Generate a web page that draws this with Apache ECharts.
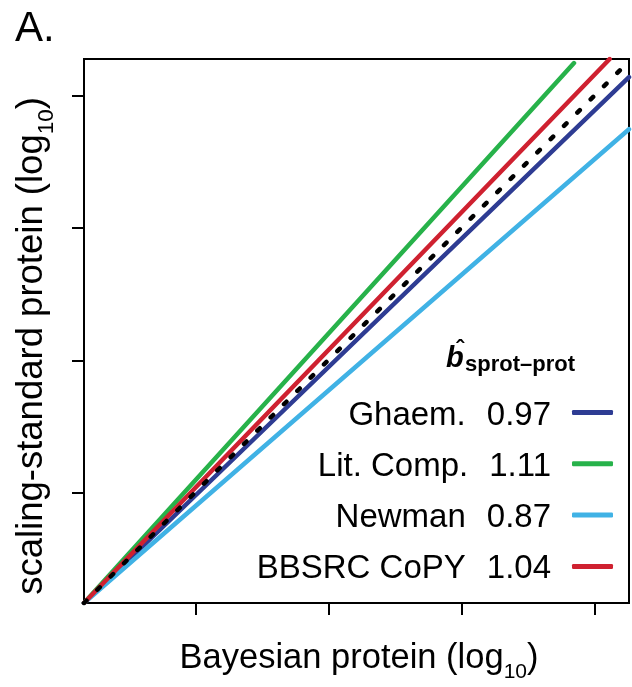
<!DOCTYPE html>
<html>
<head>
<meta charset="utf-8">
<script src="https://cdn.jsdelivr.net/npm/echarts@6/dist/echarts.min.js"></script>
<style>
  html, body { margin: 0; padding: 0; background: #fff; }
  #main { width: 632px; height: 687px; }
</style>
</head>
<body>
<div id="main"></div>
<script>
// data (log10 units, tick labels not shown)
const groups = ["Ghaem.", "Lit. Comp.", "Newman", "BBSRC CoPY"];
const slopeLabels = ["0.97", "1.11", "0.87", "1.04"];
const startPoint = [0.163, 0.17];
const endX = [4.255, 3.842, 4.255, 4.11];
const endY = [4.138, 4.244, 3.745, 4.275];
const identityEnd = [4.233, 4.236];
const xTicks = [1, 2, 3, 4];
const yTicks = [1, 2, 3, 4];

const colors = ["#2e3c93", "#27b24a", "#40b2e5", "#cf2130"];
const font = "Liberation Sans, Arial, Helvetica, sans-serif";

const myChart = echarts.init(document.getElementById("main"));

const series = groups.map((name, i) => ({
  name: name,
  type: "line",
  data: [startPoint, [endX[i], endY[i]]],
  symbol: "none",
  color: colors[i],
  lineStyle: { color: colors[i], width: 4.5, cap: "round" },
  z: 2 + i,
}));
series.push({
  name: "identity",
  type: "line",
  data: [startPoint, identityEnd],
  symbol: "none",
  color: "#000",
  lineStyle: { color: "#000", width: 4.5, type: [3.5, 15.3], cap: "round" },
  z: 10,
});

const legendText = {};
groups.forEach((g, i) => { legendText[g] = slopeLabels[i]; });

const option = {
  animation: false,
  backgroundColor: "#fff",
  grid: {
    left: 84, top: 59, width: 545, height: 544,
    show: true, borderColor: "#000", borderWidth: 2,
  },
  xAxis: {
    type: "value",
    min: startPoint[0], max: 4.255,
    axisLine: { show: false },
    axisTick: { show: true, customValues: xTicks, length: 12, lineStyle: { color: "#000", width: 2 } },
    axisLabel: { show: false },
    splitLine: { show: false },
  },
  yAxis: {
    type: "value",
    min: startPoint[1], max: 4.275,
    axisLine: { show: false },
    axisTick: { show: true, customValues: yTicks, length: 12, lineStyle: { color: "#000", width: 2 } },
    axisLabel: { show: false },
    splitLine: { show: false },
  },
  legend: {
    data: groups,
    orient: "vertical",
    align: "right",
    right: 19,
    top: 393,
    padding: 0,
    itemGap: 12.3,
    itemWidth: 41,
    itemHeight: 5,
    icon: "roundRect",
    formatter: (name) => "{n|" + name + "}{g| }{v|" + legendText[name] + "}{e| }",
    textStyle: {
      color: "#000",
      fontFamily: font,
      fontSize: 33,
      rich: {
        n: { fontSize: 33, fontFamily: font, color: "#000", lineHeight: 40, padding: [6, 0, 0, 0] },
        g: { fontSize: 33, width: 21, lineHeight: 40, padding: [6, 0, 0, 0] },
        v: { fontSize: 33, fontFamily: font, color: "#000", lineHeight: 40, padding: [6, 0, 0, 0] },
        e: { fontSize: 33, width: 16, lineHeight: 40, padding: [6, 0, 0, 0] },
      },
    },
  },
  graphic: [
    {
      type: "text", left: 15, top: 8,
      style: { text: "A.", font: "42px " + font, fill: "#000" },
    },
    {
      type: "text", x: 446, y: 359,
      style: { text: "b", fontSize: 29, fontWeight: "bold", fontStyle: "italic", fontFamily: font, fill: "#000", align: "left", verticalAlign: "middle" },
    },
    {
      type: "text", x: 460, y: 350,
      style: { text: "\u02c6", fontSize: 24, fontWeight: "bold", fontFamily: font, fill: "#000", align: "center", verticalAlign: "middle" },
    },
    {
      type: "text", x: 465, y: 365,
      style: { text: "sprot\u2013prot", fontSize: 22, fontWeight: "bold", fontFamily: font, fill: "#000", align: "left", verticalAlign: "middle" },
    },
    {
      type: "text", x: 359, y: 658,
      style: {
        text: "{a|Bayesian protein (log}{s|10}{a|)}",
        align: "center", verticalAlign: "middle", fill: "#000",
        rich: {
          a: { fontSize: 34.5, lineHeight: 34, fontFamily: font, fill: "#000" },
          s: { fontSize: 21, lineHeight: 21, fontFamily: font, fill: "#000", padding: [28, 0, 0, 0] },
        },
      },
    },
    {
      type: "text", x: 32, y: 346, rotation: Math.PI / 2,
      style: {
        text: "{a|scaling-standard protein (log}{s|10}{a|)}",
        align: "center", verticalAlign: "middle", fill: "#000",
        rich: {
          a: { fontSize: 36.5, lineHeight: 36, fontFamily: font, fill: "#000" },
          s: { fontSize: 22.5, lineHeight: 22, fontFamily: font, fill: "#000", padding: [30, 0, 0, 0] },
        },
      },
    },
  ],
  series: series,
};

option && myChart.setOption(option);
</script>
</body>
</html>
